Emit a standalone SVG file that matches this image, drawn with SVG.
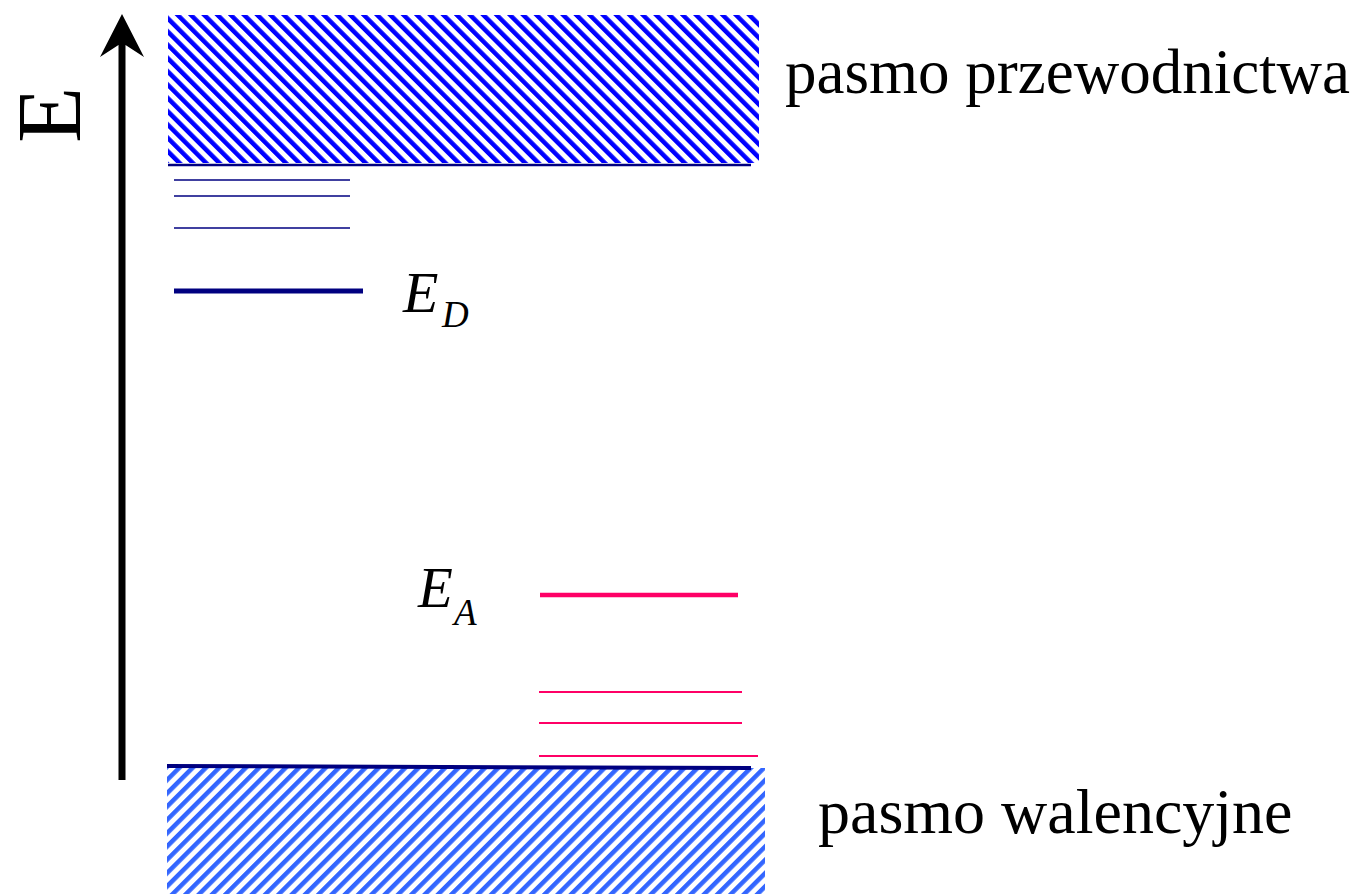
<svg xmlns="http://www.w3.org/2000/svg" width="1363" height="894" viewBox="0 0 1363 894">
<defs>
<pattern id="hatchTop" patternUnits="userSpaceOnUse" width="9.4" height="9.4" patternTransform="rotate(-45)">
<rect x="0" y="0" width="9.4" height="9.4" fill="#ffffff"/>
<rect x="0" y="0" width="4.5" height="9.4" fill="#0000ff"/>
</pattern>
<pattern id="hatchBot" patternUnits="userSpaceOnUse" width="9.4" height="9.4" patternTransform="rotate(45)">
<rect x="0" y="0" width="9.4" height="9.4" fill="#ffffff"/>
<rect x="0" y="0" width="4.5" height="9.4" fill="#3366ff"/>
</pattern>
<style>
.serif{font-family:"Liberation Serif","Times New Roman",serif;fill:#000}
.it{font-style:italic}
.navy{stroke:#000080;fill:none}
.pink{stroke:#ff0066;fill:none}
</style>
</defs>
<rect width="1363" height="894" fill="#ffffff"/>
<g id="conduction-band">
<rect x="168" y="15" width="591" height="148" fill="url(#hatchTop)"/>
<line class="navy" x1="168" y1="165" x2="751" y2="165" stroke-width="2.5"/>
<text class="serif" x="785" y="93" font-size="63">pasmo przewodnictwa</text>
</g>
<g id="valence-band">
<rect x="167" y="768" width="598" height="126" fill="url(#hatchBot)"/>
<line class="navy" x1="167" y1="766" x2="751" y2="768" stroke-width="4"/>
<text class="serif" x="818" y="833" font-size="64">pasmo walencyjne</text>
</g>
<g id="donor-levels">
<line class="navy" x1="174" y1="180" x2="350" y2="180" stroke-width="1.7"/>
<line class="navy" x1="174" y1="196" x2="350" y2="196" stroke-width="1.7"/>
<line class="navy" x1="174" y1="228" x2="350" y2="228" stroke-width="1.7"/>
<line class="navy" x1="174" y1="291" x2="363" y2="291" stroke-width="5"/>
<text class="serif it" x="403" y="312" font-size="58">E</text>
<text class="serif it" x="442" y="327" font-size="37">D</text>
</g>
<g id="acceptor-levels">
<line class="pink" x1="540" y1="595" x2="738" y2="595" stroke-width="4.5"/>
<line class="pink" x1="539" y1="692" x2="742" y2="692" stroke-width="1.8"/>
<line class="pink" x1="539" y1="723" x2="742" y2="723" stroke-width="1.8"/>
<line class="pink" x1="539" y1="756" x2="758" y2="756" stroke-width="1.8"/>
<text class="serif it" x="418" y="607" font-size="57">E</text>
<text class="serif it" x="454" y="625" font-size="37">A</text>
</g>
<g id="connectors">
<polygon points="122,14 144,57 125.5,45 125.5,780 118.5,780 118.5,45 100,57" fill="#000"/>
</g>
<g id="axis-label">
<text class="serif" transform="translate(80,143) rotate(-90)" font-size="92">E</text>
</g>
</svg>
